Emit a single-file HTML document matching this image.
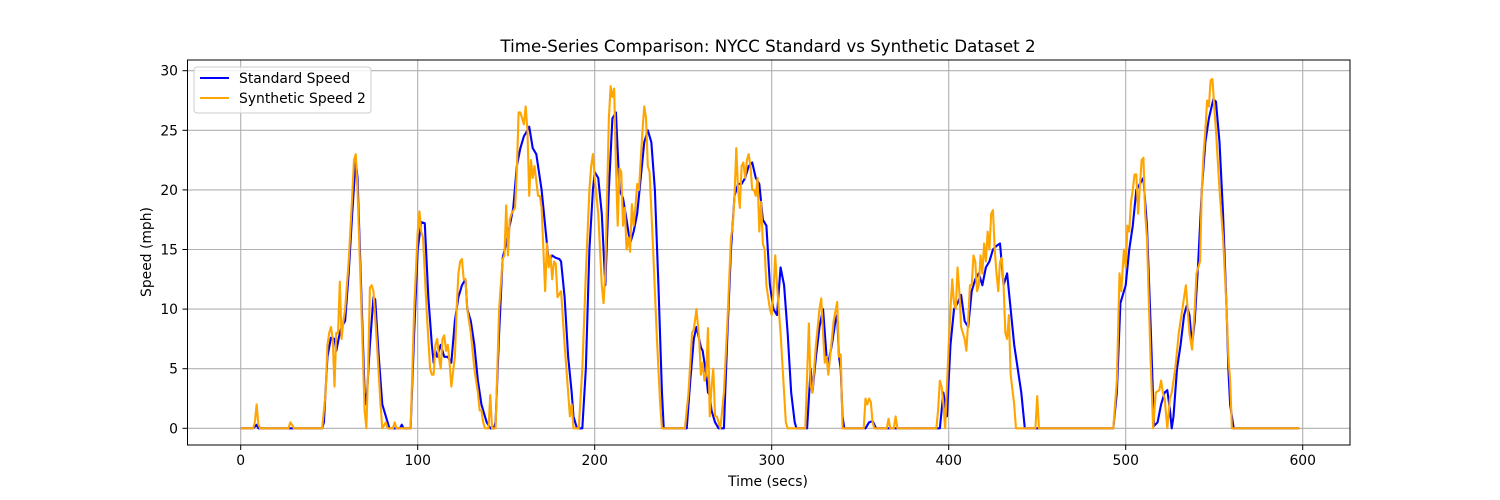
<!DOCTYPE html>
<html><head><meta charset="utf-8"><style>body{margin:0;background:#fff}svg{display:block}text{font-family:"DejaVu Sans","Liberation Sans",sans-serif;fill:#000}</style></head>
<body>
<svg id="chart" width="1500" height="500" viewBox="0 0 1500 500" xmlns="http://www.w3.org/2000/svg">
<defs><clipPath id="clip"><rect x="187.5" y="60" width="1162.5" height="385"/></clipPath></defs>
<rect x="0" y="0" width="1500" height="500" fill="#fff"/>
<g id="grid"></g>
<g id="series" clip-path="url(#clip)"></g>
<rect x="187.5" y="60" width="1162.5" height="385" fill="none" stroke="#000" stroke-width="1"/>
<g id="ticks"></g>
<text x="768" y="52" text-anchor="middle" font-size="16.7">Time-Series Comparison: NYCC Standard vs Synthetic Dataset 2</text>
<text x="768" y="486" text-anchor="middle" font-size="13.9">Time (secs)</text>
<text x="151" y="252" text-anchor="middle" font-size="13.9" transform="rotate(-90 151 252)">Speed (mph)</text>
<g>
<rect x="194" y="67" width="177" height="46" rx="3" fill="#fff" fill-opacity="0.8" stroke="#ccc" stroke-width="1"/>
<g><line x1="200" y1="78" x2="229" y2="78" stroke="#0000ff" stroke-width="2.1"/><text x="239" y="83" font-size="13.9">Standard Speed</text></g>
<g><line x1="200" y1="98" x2="229" y2="98" stroke="#ffa500" stroke-width="2.1"/><text x="239" y="103" font-size="13.9">Synthetic Speed 2</text></g>
</g>
</svg>
<script>
const xTicks = [0,100,200,300,400,500,600];
const yTicks = [0,5,10,15,20,25,30];
const stdPoints = [[0,0],[7,0],[9,0.3],[10,0],[46,0],[47,0.5],[49,6],[51,7.6],[53,7.5],[54,6.5],[56,8],[57,8.5],[59,9],[61,13],[63,18],[65,22.5],[66,21],[68,12],[70,3],[71,2],[73,7],[75,11],[76,10.8],[78,6],[80,2],[82,1],[83,0.5],[84,0],[90,0],[91,0.3],[92,0],[96,0],[98,8],[100,15],[102,17.3],[104,17.2],[106,11],[108,7],[109,5.5],[110,6.5],[111,6],[113,7],[115,6],[117,6],[119,5.5],[121,9],[123,11],[125,12],[127,12.5],[128,10],[130,9],[132,7],[134,4],[136,2],[138,1],[139,0.5],[141,0],[143,0],[144,0.5],[146,8],[148,14.3],[150,15.5],[152,17],[154,18.5],[156,22],[158,23.5],[160,24.5],[162,25],[163,25.3],[165,23.5],[167,23],[168,22],[170,20],[172,17],[174,14],[176,14.5],[178,14.3],[180,14.2],[181,14],[183,11],[185,6],[187,3],[188,1],[190,0],[193,0],[195,5],[197,15],[199,20],[200,21.5],[202,21],[204,18],[206,12],[208,20],[210,26],[212,26.5],[214,20],[216,19.3],[218,17.5],[220,15.5],[222,16.5],[224,18],[226,21],[228,24],[230,25],[232,24],[234,20],[236,12],[238,3],[239,0],[252,0],[254,4],[256,7.5],[257.5,8.5],[259,7.5],[260,6.8],[261,6.5],[262,5.5],[263,4.5],[264,3],[265,2.8],[266,1.5],[268,0.5],[270,0],[273,0],[275,8],[277,15],[279,19.5],[281,20.5],[283,20.5],[285,21],[287,22],[289,22.3],[291,21],[293,20.5],[295,17.5],[297,17],[299,12],[301,10],[303,9.5],[305,13.5],[307,12],[309,8],[311,3],[313,0.5],[314,0],[320,0],[322,5],[323,3],[325,6],[327,8.5],[329,10],[330,8],[331,6],[332,5.5],[334,7],[336,9],[337,9.5],[338,6],[339,5],[340,1],[341,0],[353,0],[355,0.5],[357,0.6],[359,0],[395,0],[397,3],[399,1],[401,7],[403,10],[405,10.5],[407,11.2],[409,9],[411,8.5],[413,11.5],[415,12.5],[417,13],[419,12],[421,13.5],[423,14],[425,15],[427,15.3],[429,15.5],[431,12],[433,13],[435,10],[437,7],[439,5],[441,3],[443,0],[493,0],[495,3],[497,10.5],[500,12],[502,15],[504,17],[506,20],[508,20.5],[510,21],[511,19],[512,17],[514,9],[516,0.2],[518,0.5],[520,2],[522,3],[523.5,3.2],[525,1.5],[526,0],[527,1],[529,5],[531,7],[533,9.5],[534.5,10.3],[536,9.5],[537.5,7],[539,9],[541,14],[543,20],[545,24],[547,26],[549.5,27.6],[551,27.4],[553,24],[555,18],[557,10],[558,5],[559,2],[561,0],[598,0]];
const synPoints = [[0,0],[7,0],[8,0.5],[9,2],[10,0.3],[11,0],[27,0],[28,0.5],[29,0.3],[30,0],[46,0],[48,3],[49,7],[50,8],[51,8.5],[52,7.5],[53,3.5],[54,8],[55,8],[56,12.3],[57,7.5],[58,9],[59,10],[61,14],[63,19.5],[64,22.5],[65,23],[66,20],[68,11],[70,1.5],[71,0],[72,5],[73,11.8],[74,12],[75,11.5],[77,7],[79,2],[80,0],[82,0.5],[83,0],[86,0],[87,0.5],[88,0],[96,0],[98,10],[100,16.5],[101,18.2],[102,16.5],[103,16],[105,10],[107,5],[108,4.5],[109,4.5],[110,7],[111,7.5],[112,6],[113,5],[114,7.5],[115,7.8],[116,6.5],[117,7],[118,5.5],[119,3.5],[121,6],[122,10],[123,13],[124,14],[125,14.2],[126,12.5],[127,12.5],[128,10],[130,8],[132,5],[134,3],[135,1.5],[136,1.5],[137,0.5],[138,0],[140,0],[141,2.8],[142,0],[144,0],[146,10],[148,14.2],[149,14.5],[150,18.7],[151,14.5],[152,17.5],[153,18],[155,18.5],[156,21.5],[157,26.5],[158,26.5],[160,25.5],[161,27],[162,25],[163,19.5],[164,22.5],[165,21],[166,22],[168,19.5],[169,19.5],[170,18.5],[171,15],[172,11.5],[173,15.5],[174,13.5],[175,14.5],[176,12.5],[177,14],[178,13.8],[179,11],[181,11.5],[183,7],[185,3],[186,1],[187,2],[188,0],[191,0],[193,5],[195,13],[197,20],[198,22],[199,23],[200,21],[202,18],[204,12],[205,10.5],[206,13],[208,26],[209,28.7],[210,27.8],[211,28.5],[212,22],[213,17],[214,21.8],[215,21.5],[216,17],[217,18.5],[218,15],[219,16],[220,14.8],[221,18.8],[222,17],[223,18.5],[224,20.5],[225,20],[227,25],[228,27],[229,26],[230,22],[231,21.5],[233,15],[235,8],[237,2],[238,0],[251,0],[253,3],[255,8],[256,8.3],[257.5,10],[259,7.5],[260,4.5],[261,5.5],[262,4],[263,4.5],[264,8.4],[265,1],[266,3.5],[267,5],[268,1],[269,1],[270,0.5],[271,0],[273,3],[275,9],[277,16],[278,17],[279,19.5],[280,23.5],[281,20],[282,18.5],[283,22],[284,22.3],[285,21],[286,22.5],[287,23],[288,22],[289,20],[290,20],[291,19.5],[292,21],[293,16.5],[294,19],[295,15.5],[296,15],[297,12],[299,10],[300,9.5],[301,11.5],[302,14.5],[303,12],[305,8],[307,3],[308,0.5],[309,0],[319,0],[321,8.8],[322,3.5],[323,3],[325,7],[327,10],[328,10.9],[329,8],[330,5.5],[331,6],[332,4.5],[333,6],[335,9],[337,10.6],[338,6],[339,6.2],[340,0],[352,0],[353,2.5],[354,2],[355,2.5],[356,2.2],[357,0.5],[358,0],[365,0],[366,0.8],[367,0],[369,0],[370,1],[371,0],[393,0],[394,1.5],[395,4],[396,3.5],[397,2],[398,0],[400,7],[401,10],[402,12.5],[403,10.5],[404,10],[405,13.5],[406,11.5],[407,8.5],[408,8],[409,7.5],[410,6.5],[411,9],[412,12],[413,12],[414,14.5],[415,14],[416,11.5],[417,12],[418,14.5],[419,13],[420,15.5],[421,14],[422,16.5],[423,15],[424,18],[425,18.3],[426,15],[427,13],[428,11.5],[429,14],[430,14.3],[431,12],[432,8],[433,7.5],[434,9.5],[435,4.5],[437,2],[438,0],[449,0],[450,2.7],[451,0],[493,0],[495,4],[496.5,13],[497.5,11.5],[499,15],[500,13.5],[501,17],[502,16.5],[503,19],[504,20],[505,21.3],[506,21.3],[507,18],[509,22.5],[510,22.7],[511,18],[512,16],[514,6],[515.5,0],[517,3],[519,3.2],[520,4],[521,3],[522,2.5],[523.5,0],[525,2.5],[526,3],[528,5],[530,8],[532,10],[534,12],[535,10],[536,8],[537.5,6.6],[539,10],[540,13],[542,14],[543,20],[544,23],[545,25],[546,27.5],[547,27],[548,29.2],[549,29.3],[550,27],[551,25],[553,20],[555,16],[557,10],[558,6],[559,4],[560,0],[598,0]];

const NS = 'http://www.w3.org/2000/svg';
const X0 = 240.7, XK = 1.77, Y0 = 428.3, YK = 11.92;
function xs(t){ return X0 + t*XK; }
function ys(v){ return Y0 - v*YK; }
const grid = document.getElementById('grid');
const ticks = document.getElementById('ticks');
const series = document.getElementById('series');

xTicks.forEach(function(t){
  const x = xs(t);
  const g = document.createElementNS(NS,'line');
  g.setAttribute('x1',x); g.setAttribute('x2',x); g.setAttribute('y1',60); g.setAttribute('y2',445);
  g.setAttribute('stroke','#b0b0b0'); g.setAttribute('stroke-width','1.1');
  
  
  grid.appendChild(g);
  const tk = document.createElementNS(NS,'line');
  tk.setAttribute('x1',x); tk.setAttribute('x2',x); tk.setAttribute('y1',445); tk.setAttribute('y2',450);
  tk.setAttribute('stroke','#000');
  
  
  ticks.appendChild(tk);
  const tx = document.createElementNS(NS,'text');
  tx.setAttribute('x',x); tx.setAttribute('y',465); tx.setAttribute('text-anchor','middle'); tx.setAttribute('font-size','13.9');
  tx.textContent = t;
  
  
  ticks.appendChild(tx);
});
yTicks.forEach(function(v){
  const y = ys(v);
  const g = document.createElementNS(NS,'line');
  g.setAttribute('x1',187.5); g.setAttribute('x2',1350); g.setAttribute('y1',y); g.setAttribute('y2',y);
  g.setAttribute('stroke','#b0b0b0'); g.setAttribute('stroke-width','1.1');
  
  
  grid.appendChild(g);
  const tk = document.createElementNS(NS,'line');
  tk.setAttribute('x1',182.5); tk.setAttribute('x2',187.5); tk.setAttribute('y1',y); tk.setAttribute('y2',y);
  tk.setAttribute('stroke','#000');
  
  
  ticks.appendChild(tk);
  const tx = document.createElementNS(NS,'text');
  tx.setAttribute('x',178); tx.setAttribute('y',y+5); tx.setAttribute('text-anchor','end'); tx.setAttribute('font-size','13.9');
  tx.textContent = v;
  
  
  ticks.appendChild(tx);
});
function drawLine(points, color, name){
  const p = document.createElementNS(NS,'polyline');
  p.setAttribute('points', points.map(function(d){ return xs(d[0]).toFixed(2)+','+ys(d[1]).toFixed(2); }).join(' '));
  p.setAttribute('fill','none'); p.setAttribute('stroke',color); p.setAttribute('stroke-width','2.1');
  p.setAttribute('stroke-linejoin','round');
  
  
  series.appendChild(p);
}
drawLine(stdPoints, '#0000ff', 'standard-speed-line');
drawLine(synPoints, '#ffa500', 'synthetic-speed-2-line');
</script>
</body></html>
